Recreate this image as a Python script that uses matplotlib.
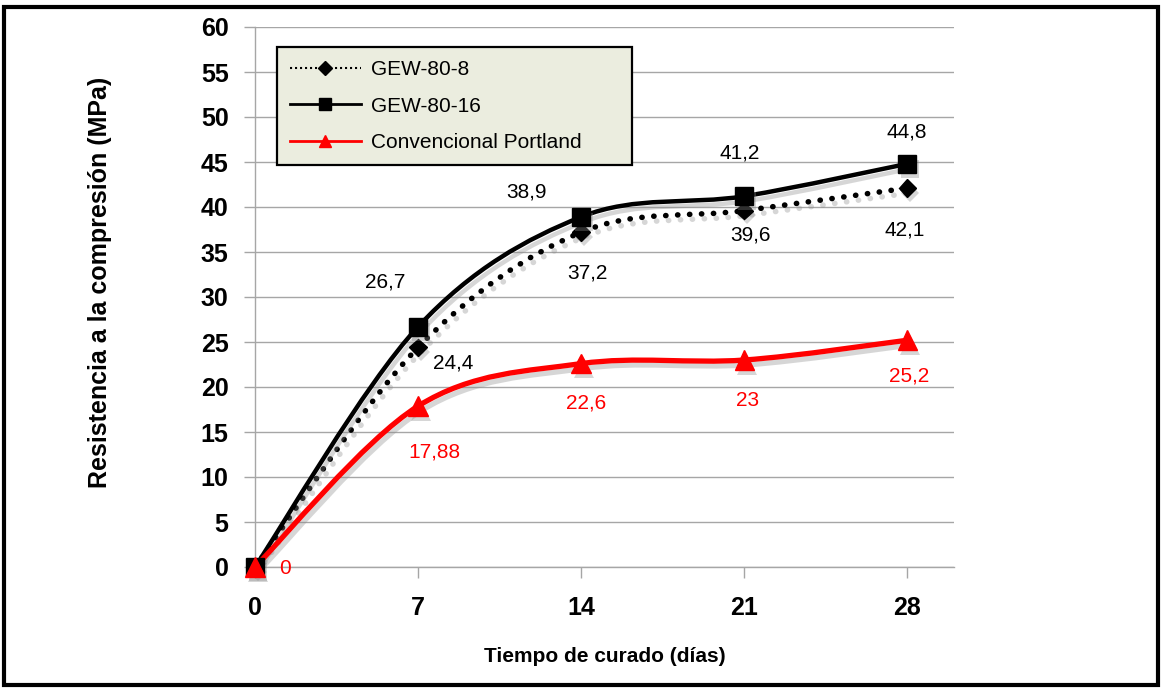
import matplotlib
matplotlib.use("Agg")
import matplotlib.pyplot as plt
import matplotlib.patheffects as pe
from matplotlib.lines import Line2D
from matplotlib.patches import PathPatch, Rectangle
from matplotlib.path import Path

DAYS = [0, 7, 14, 21, 28]
GEW_80_8 = [0, 24.4, 37.2, 39.6, 42.1]
GEW_80_16 = [0, 26.7, 38.9, 41.2, 44.8]
PORTLAND = [0, 17.88, 22.6, 23, 25.2]
NAMES = ["GEW-80-8", "GEW-80-16", "Convencional Portland"]

# label offsets in pixels (dx, dy up); None = label not shown
OFFS_8 = [None, (35, -16), (6, -41), (6, -24), (-3, -42)]
OFFS_16 = [None, (-33, 45), (-55, 25), (-5, 43), (-1, 32)]
OFFS_P = [(30, -1), (16, -46), (5, -39), (3, -40), (2, -36)]

RED = "#FF0000"
GRID = "#A6A6A6"

plt.rcParams["font.family"] = ["Liberation Sans", "DejaVu Sans"]


def smooth_path(xs, ys):
    """Excel-like smoothed line: Catmull-Rom segments as cubic Beziers."""
    pts = list(zip(xs, ys))
    verts = [pts[0]]
    codes = [Path.MOVETO]
    n = len(pts)
    for i in range(n - 1):
        p0 = pts[max(i - 1, 0)]
        p1 = pts[i]
        p2 = pts[i + 1]
        p3 = pts[min(i + 2, n - 1)]
        c1 = (p1[0] + (p2[0] - p0[0]) / 6, p1[1] + (p2[1] - p0[1]) / 6)
        c2 = (p2[0] - (p3[0] - p1[0]) / 6, p2[1] - (p3[1] - p1[1]) / 6)
        verts += [c1, c2, p2]
        codes += [Path.CURVE4] * 3
    return Path(verts, codes)


def fmt(v):
    return f"{v:g}".replace(".", ",")


fig = plt.figure(figsize=(11.62, 6.88), dpi=100)
ax = fig.add_axes([255 / 1162, 1 - 567 / 688, 699 / 1162, 540 / 688])

line_shadow = [pe.SimpleLineShadow(offset=(2, -3.5), shadow_color="0.55", alpha=0.35), pe.Normal()]
mark_shadow = [pe.SimplePatchShadow(offset=(2, -3.5), shadow_rgbFace="0.55", alpha=0.35), pe.Normal()]

styles = [
    (GEW_80_8, dict(color="black", lw=4.0, ls=(0, (0.05, 2.1))), dict(marker="D", ms=9, color="black"), OFFS_8),
    (GEW_80_16, dict(color="black", lw=3.2, ls="-"), dict(marker="s", ms=13, color="black"), OFFS_16),
    (PORTLAND, dict(color=RED, lw=3.8, ls="-"), dict(marker="^", ms=14, color=RED), OFFS_P),
]

for vals, lsty, msty, offs in styles:
    patch = PathPatch(smooth_path(DAYS, vals), fill=False, edgecolor=lsty["color"],
                      lw=lsty["lw"], ls=lsty["ls"], capstyle="round", joinstyle="round",
                      zorder=3, clip_on=False)
    patch.set_path_effects(line_shadow)
    ax.add_patch(patch)
    ax.plot(DAYS, vals, ls="none", marker=msty["marker"], ms=msty["ms"],
            color=msty["color"], zorder=4, clip_on=False, path_effects=mark_shadow)
    for x, v, off in zip(DAYS, vals, offs):
        if off is None:
            continue
        ax.annotate(fmt(v), (x, v), xytext=off, textcoords="offset pixels",
                    ha="center", va="center", fontsize=15, color=lsty["color"], zorder=5)

ax.set_xlim(0, 30)
ax.set_ylim(0, 60)
ax.set_xticks(DAYS)
ax.set_yticks(range(0, 61, 5))
ax.grid(axis="y", color=GRID, lw=1)
ax.set_axisbelow(True)
for side in ("top", "right"):
    ax.spines[side].set_visible(False)
for side in ("left", "bottom"):
    ax.spines[side].set_color(GRID)
    ax.spines[side].set_linewidth(1)
ax.tick_params(axis="both", direction="out", length=8, width=1, color=GRID,
               labelsize=18)
ax.tick_params(axis="y", pad=11)
ax.tick_params(axis="x", pad=13)
for lab in ax.get_xticklabels() + ax.get_yticklabels():
    lab.set_fontweight("bold")

handles = [
    Line2D([], [], color="black", lw=1.5, ls=(0, (1, 1.4)), marker="D", ms=7),
    Line2D([], [], color="black", lw=2, marker="s", ms=9),
    Line2D([], [], color=RED, lw=2, marker="^", ms=9),
]
leg = ax.legend(handles, NAMES, loc="upper left", bbox_to_anchor=(0.0315, 0.763, 0.508, 0.2),
                mode="expand", borderaxespad=0, fontsize=15, handlelength=3.4,
                handletextpad=0.5, labelspacing=0.85, borderpad=0.62, fancybox=False,
                framealpha=1, facecolor="#EBEDDF", edgecolor="black")
leg.get_frame().set_linewidth(1.6)
leg.set_zorder(6)

fig.text(100 / 1162, 1 - 282 / 688, "Resistencia a la compresión (MPa)", rotation=90,
         ha="center", va="center", fontsize=18, fontweight="bold")
fig.text(605 / 1162, 1 - 657 / 688, "Tiempo de curado (días)", ha="center", va="center",
         fontsize=15, fontweight="bold")

fig.add_artist(Rectangle((4 / 1162, 3 / 688), 1154 / 1162, 678 / 688, transform=fig.transFigure,
                         fill=False, edgecolor="black", lw=3))

fig.savefig("out.png", dpi=100)
